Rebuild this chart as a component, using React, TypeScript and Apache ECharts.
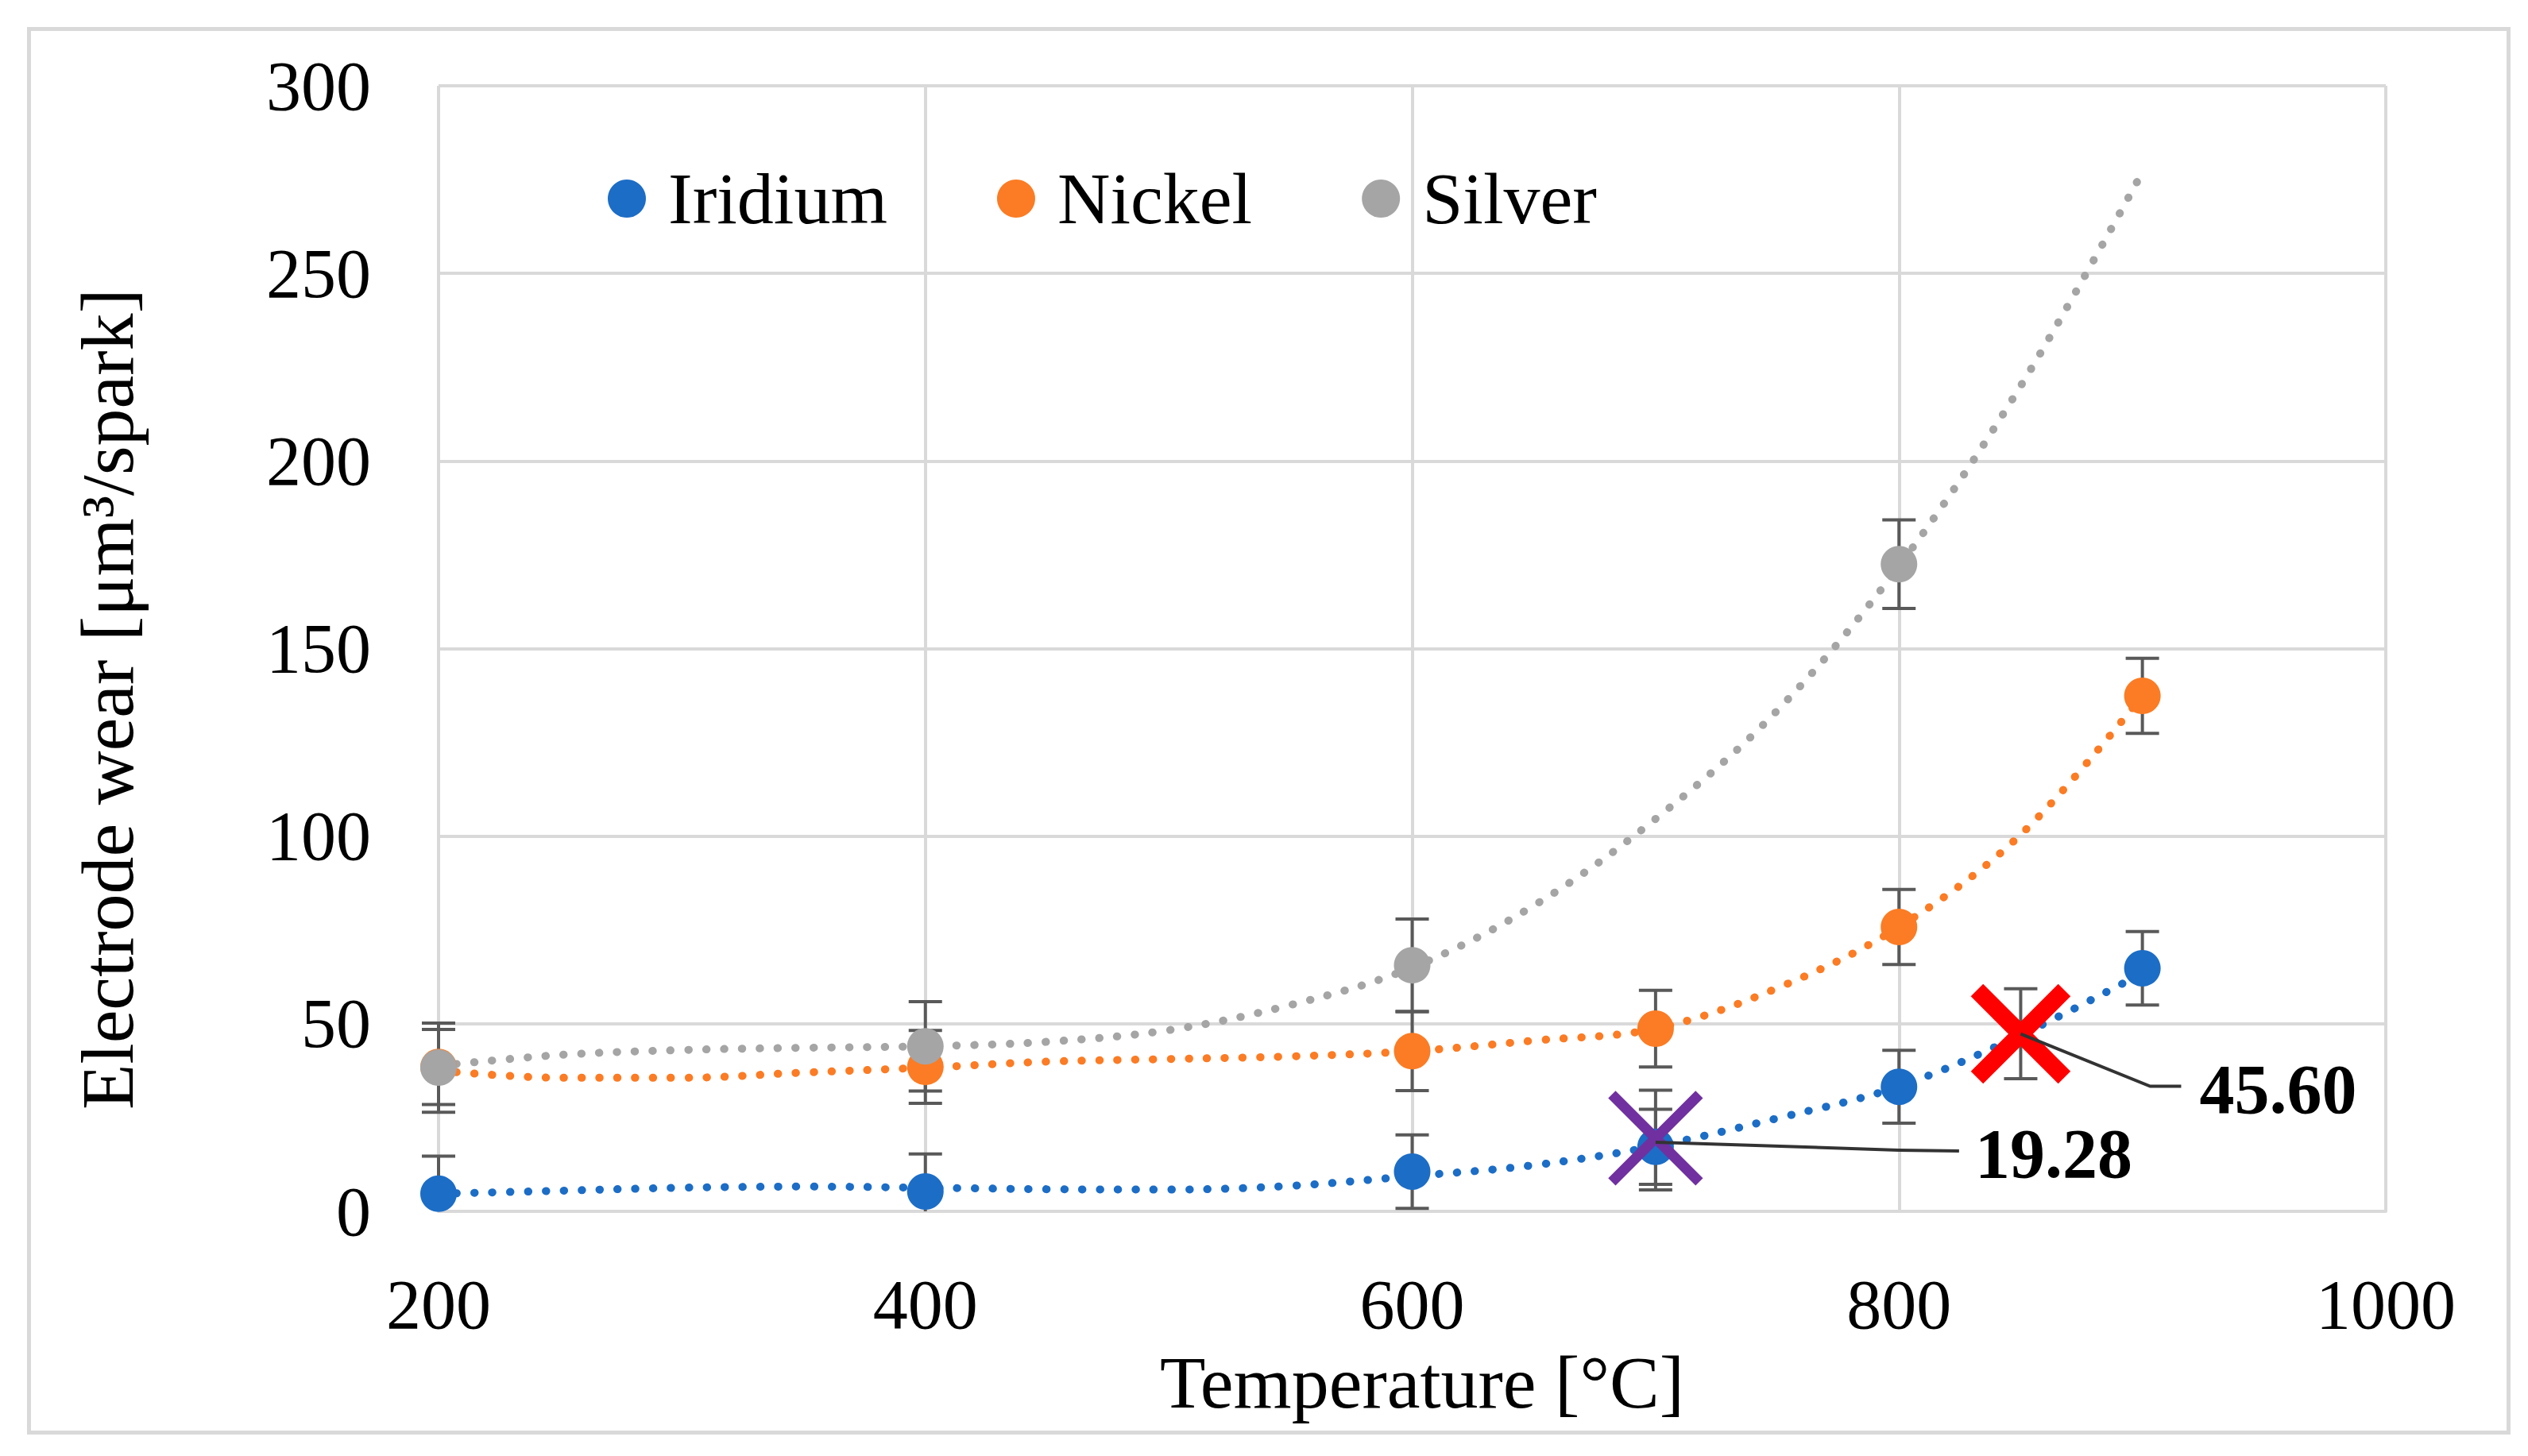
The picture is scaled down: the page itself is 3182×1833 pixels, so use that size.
import React, { useEffect, useRef } from "react";
import * as echarts from "echarts";

// ---------- data ----------
const seriesNames = ["Iridium", "Nickel", "Silver"];
const seriesColors = ["#1c6dc6", "#fb7c24", "#a5a5a5"];

const iridiumX = [200, 400, 600, 700, 800, 900];
const iridiumY = [4.7, 5.3, 10.6, 17.2, 33.2, 64.8];
const iridiumErr = [10, 10, 9.8, 10, 9.7, 9.8];

const nickelX = [200, 400, 600, 700, 800, 900];
const nickelY = [38.5, 38.5, 42.7, 48.7, 75.8, 137.4];
const nickelErr = [10, 9.7, 10.5, 10.2, 10, 10];

const silverX = [200, 400, 600, 800];
const silverY = [38.3, 44.0, 65.6, 172.5];
const silverErr = [11.9, 11.9, 12.3, 11.8];

// trend lines
const trendX = [200, 250, 300, 350, 400, 450, 500, 550, 600, 650, 700, 750, 800, 850, 900];
const iridiumTrend = [4.7, 5.5, 6.3, 6.6, 6.3, 5.9, 5.8, 6.8, 9.4, 12.3, 17.4, 24.8, 33.3, 47.0, 63.5];
const nickelTrend = [37.5, 35.6, 35.6, 37.0, 38.3, 39.9, 40.6, 41.3, 42.7, 45.5, 48.7, 59.5, 75.8, 100.4, 137.4];
const silverTrend = [38.8, 41.7, 43.0, 43.6, 44.0, 45.2, 48.3, 55.0, 65.0, 81.5, 104.6, 133.5, 172.0, 220.0, 277.0];

// highlighted points (crosses) with their error bars and labels
const crossX = [700, 850];
const crossY = [19.5, 47.3];
const crossErrCenter = [19.0, 47.35];
const crossErr = [13.3, 12.0];
const crossLabels = ["19.28", "45.60"];
const crossColors = ["#7030a0", "#ff0000"];

// axes
const xMin = 200, xMax = 1000, xStep = 200;
const yMin = 0, yMax = 300, yStep = 50;
const xTitle = "Temperature [°C]";
const yTitle = "Electrode wear [μm³/spark]";

const FONT = "Liberation Serif";

export default function App() {
  const ref = useRef<HTMLDivElement>(null);

  useEffect(() => {
    document.body.style.margin = "0";
    document.body.style.overflow = "hidden";
    const chart = echarts.init(ref.current!, null, { renderer: "svg" });

    const errData = (xs: number[], ys: number[], es: number[]) =>
      xs.map((x, i) => [x, ys[i], es[i]]);

    const errorSeries = (name: string, data: number[][]) => ({
      name,
      type: "custom",
      z: 3,
      silent: true,
      data,
      encode: { x: 0, y: 1 },
      renderItem: (params: any, api: any) => {
        const x = api.value(0);
        const y = api.value(1);
        const e = api.value(2);
        const lo = Math.max(0, y - e);
        const pTop = api.coord([x, y + e]);
        const pBot = api.coord([x, lo]);
        const st = { stroke: "#595959", lineWidth: 4 };
        const children: any[] = [
          { type: "line", shape: { x1: pTop[0], y1: pTop[1], x2: pBot[0], y2: pBot[1] }, style: st },
          { type: "line", shape: { x1: pTop[0] - 21, y1: pTop[1], x2: pTop[0] + 21, y2: pTop[1] }, style: st },
        ];
        if (y - e >= 0) {
          children.push({ type: "line", shape: { x1: pBot[0] - 21, y1: pBot[1], x2: pBot[0] + 21, y2: pBot[1] }, style: st });
        }
        return { type: "group", children };
      },
    });

    const trendSeries = (name: string, ys: number[], color: string) => ({
      name,
      type: "line",
      z: 2,
      silent: true,
      smooth: 0.35,
      showSymbol: false,
      symbol: "none",
      data: trendX.map((x, i) => [x, ys[i]]),
      lineStyle: { color, width: 10, type: [0.5, 22], cap: "round" },
    });

    const scatterSeries = (name: string, xs: number[], ys: number[], color: string, z: number) => ({
      name,
      type: "scatter",
      z,
      symbol: "circle",
      symbolSize: 46,
      itemStyle: { color, opacity: 1 },
      data: xs.map((x, i) => [x, ys[i]]),
    });

    const crossWidths = [13, 22];
    const crossHalf = 55;
    // label leader geometry (pixels, relative to the cross centre)
    const leader = [
      { pts: [[0, 5], [306, 15], [382, 16]], tx: 402, ty: 20 },
      { pts: [[0, 0], [163, 66], [202, 66]], tx: 225, ty: 70 },
    ];

    const option: any = {
      animation: false,
      backgroundColor: "#ffffff",
      textStyle: { fontFamily: FONT },
      grid: { left: 552, top: 108, width: 2451, height: 1417, containLabel: false },
      legend: {
        data: seriesNames,
        left: 765,
        top: 204,
        padding: 0,
        icon: "circle",
        itemWidth: 48,
        itemHeight: 48,
        itemGap: 138,
        textStyle: { fontFamily: FONT, fontSize: 92, color: "#000", lineHeight: 48, padding: [0, 0, 0, 23] },
      },
      xAxis: {
        type: "value",
        min: xMin,
        max: xMax,
        interval: xStep,
        axisLine: { show: true, lineStyle: { color: "#d9d9d9", width: 4 } },
        axisTick: { show: false },
        splitLine: { show: true, lineStyle: { color: "#d9d9d9", width: 4 } },
        axisLabel: {
          margin: 73,
          fontFamily: FONT,
          fontSize: 88,
          color: "#000",
          formatter: (v: number) => String(v),
        },
      },
      yAxis: {
        type: "value",
        min: yMin,
        max: yMax,
        interval: yStep,
        axisLine: { show: false },
        axisTick: { show: false },
        splitLine: { show: true, lineStyle: { color: "#d9d9d9", width: 4 } },
        axisLabel: {
          margin: 85,
          fontFamily: FONT,
          fontSize: 88,
          color: "#000",
          formatter: (v: number) => String(v),
        },
      },
      graphic: [
        {
          type: "rect",
          left: 34,
          top: 34,
          shape: { x: 0, y: 0, width: 3121, height: 1767 },
          style: { fill: "none", stroke: "#d9d9d9", lineWidth: 5 },
          z: -10,
        },
        {
          type: "text",
          x: 135,
          y: 880,
          rotation: Math.PI / 2,
          style: {
            text: yTitle,
            fontFamily: FONT,
            fontSize: 94,
            fill: "#000",
            align: "center",
            verticalAlign: "middle",
          },
        },
        {
          type: "text",
          x: 1790,
          y: 1740,
          style: {
            text: xTitle,
            fontFamily: FONT,
            fontSize: 94,
            fill: "#000",
            align: "center",
            verticalAlign: "middle",
          },
        },
      ],
      series: [
        trendSeries("Iridium trend", iridiumTrend, seriesColors[0]),
        trendSeries("Nickel trend", nickelTrend, seriesColors[1]),
        trendSeries("Silver trend", silverTrend, seriesColors[2]),
        errorSeries("Iridium error", errData(iridiumX, iridiumY, iridiumErr)),
        errorSeries("Nickel error", errData(nickelX, nickelY, nickelErr)),
        errorSeries("Silver error", errData(silverX, silverY, silverErr)),
        errorSeries("Cross error", errData(crossX, crossErrCenter, crossErr)),
        scatterSeries(seriesNames[0], iridiumX, iridiumY, seriesColors[0], 4),
        scatterSeries(seriesNames[1], nickelX, nickelY, seriesColors[1], 4),
        scatterSeries(seriesNames[2], silverX, silverY, seriesColors[2], 4),
        {
          name: "Crosses",
          type: "custom",
          z: 6,
          silent: true,
          data: crossX.map((x, i) => [x, crossY[i]]),
          encode: { x: 0, y: 1 },
          renderItem: (params: any, api: any) => {
            const i = params.dataIndex;
            const p = api.coord([api.value(0), api.value(1)]);
            const st = { stroke: crossColors[i], lineWidth: crossWidths[i] };
            const L = leader[i];
            const pts = L.pts.map((q) => [p[0] + q[0], p[1] + q[1]]);
            return {
              type: "group",
              children: [
                { type: "line", shape: { x1: p[0] - crossHalf, y1: p[1] - crossHalf, x2: p[0] + crossHalf, y2: p[1] + crossHalf }, style: st },
                { type: "line", shape: { x1: p[0] - crossHalf, y1: p[1] + crossHalf, x2: p[0] + crossHalf, y2: p[1] - crossHalf }, style: st },
                { type: "polyline", shape: { points: pts }, style: { stroke: "#333333", lineWidth: 4, fill: "none" } },
                {
                  type: "text",
                  x: p[0] + L.tx,
                  y: p[1] + L.ty,
                  style: {
                    text: crossLabels[i],
                    fontFamily: FONT,
                    fontSize: 88,
                    fontWeight: "bold",
                    fill: "#000",
                    align: "left",
                    verticalAlign: "middle",
                  },
                },
              ],
            };
          },
        },
      ],
    };

    chart.setOption(option);
    return () => chart.dispose();
  }, []);

  return <div ref={ref} style={{ width: 3182, height: 1833 }} />;
}
